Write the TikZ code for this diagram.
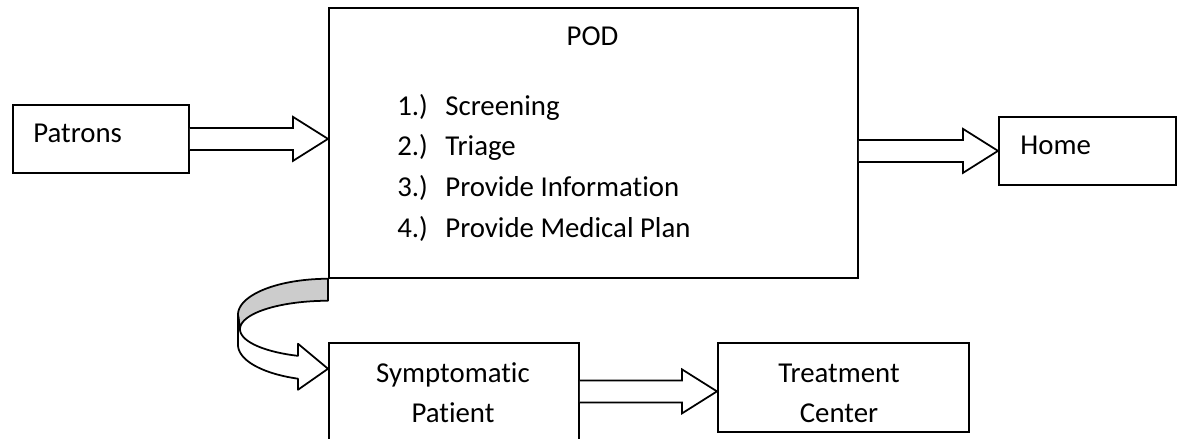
\documentclass[tikz,border=0pt]{standalone}
\usepackage{fontspec}
\setmainfont{Carlito}[Ligatures=NoCommon]
\usetikzlibrary{calc}

% one unit = one pixel of a 1179 x 439 canvas, y running downwards
\def\u{0.02cm}
\tikzset{
  box/.style={draw, line width=1pt, inner sep=0pt, anchor=north west},
  lbl/.style={inner sep=0pt, font=\fontsize{16.4}{20}\selectfont},
  fat/.style={draw, fill=white, line width=1pt, line join=miter},
  band/.style={draw, line width=1pt, line join=round},
}

% hollow block arrow from the x of #1 to the tip #2 (horizontal)
\newcommand{\fatarrow}[2]{%
  \draw[fat] ($(#1 |- #2)+(0,-11)$) -- ($(#2)+(-35,-11)$) -- ($(#2)+(-35,-22)$)
    -- (#2) -- ($(#2)+(-35,22)$) -- ($(#2)+(-35,11)$) -- ($(#1 |- #2)+(0,11)$);}

\begin{document}
\begin{tikzpicture}[x=0.02cm, y=-0.02cm]
  \fill[white] (0,0) rectangle (1179,439);
  \clip (0,0) rectangle (1179,439);

  % boxes
  \node[box, minimum width=176*\u, minimum height=68*\u]  (pat)   at (12,104)  {};
  \node[box, minimum width=529*\u, minimum height=270*\u] (pod)   at (328,7)   {};
  \node[box, minimum width=177*\u, minimum height=68*\u]  (home)  at (998,116) {};
  \node[box, minimum width=250*\u, minimum height=140*\u] (sym)   at (328,342) {};
  \node[box, minimum width=251*\u, minimum height=89*\u]  (treat) at (717,342) {};

  % texts
  \node[lbl, anchor=base west] (tpat)  at (33,142)   {Patrons};
  \node[lbl, anchor=base west] (thome) at (1020,154) {Home};
  \node[lbl, anchor=base]      (tpod)  at (592.5,46) {POD};
  \foreach \n/\t/\y in {1/Screening/115, 2/Triage/155, 3/Provide Information/196, 4/Provide Medical Plan/237}{
    \node[lbl, anchor=base west] (num\n) at (397,\y) {\n.)};
    \node[lbl, anchor=base west] (item\n) at (445,\y) {\t};
  }
  \node[lbl, anchor=base] (tsym1) at (453,382) {Symptomatic};
  \node[lbl, anchor=base] (tsym2) at (453,422) {Patient};
  \node[lbl, anchor=base] (ttr1)  at (839,382) {Treatment};
  \node[lbl, anchor=base] (ttr2)  at (839,422) {Center};

  % straight block arrows
  \coordinate (tip1) at (pat.east -| pod.west);
  \coordinate (tip2) at (home.west);
  \coordinate (tip3) at ($(treat.west)+(0,4)$);
  \fatarrow{pat.east}{tip1}
  \fatarrow{pod.east}{tip2}
  \fatarrow{sym.east}{tip3}

  % curved block arrow from the POD down to the symptomatic patient
  \begin{scope}[shift={(pod.south west)}]
    % back side of the band
    \filldraw[band, fill=black!20]
      plot[domain=270:180, samples=40, variable=\t] ({90*cos(\t)}, {36+36*sin(\t)})
      -- plot[domain=180:270, samples=40, variable=\t] ({88*cos(\t)}, {50.4+28.4*sin(\t)})
      -- cycle;
    % front side with the head
    \filldraw[band, fill=white]
      (-90,36) -- (-90,66)
      -- plot[domain=180:109.47, samples=40, variable=\t] ({90*cos(\t)}, {66+36*sin(\t)})
      -- (-30,111) -- (sym.west |- 0,90) -- (-30,65) -- (-30,77.1)
      -- plot[domain=109.93:180, samples=40, variable=\t] ({88*cos(\t)}, {50.4+28.4*sin(\t)})
      -- cycle;
  \end{scope}
\end{tikzpicture}
\end{document}
